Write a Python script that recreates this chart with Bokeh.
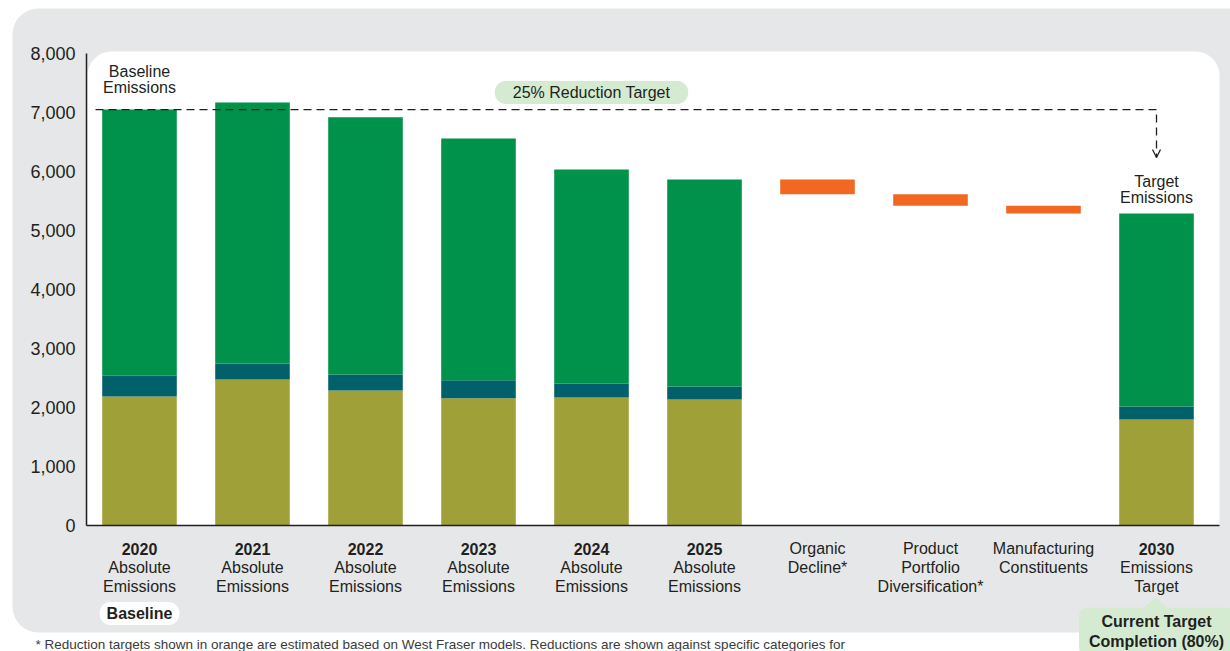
from bokeh.plotting import figure
from bokeh.models import (Range1d, FixedTicker, NumeralTickFormatter, Label,
                          BoxAnnotation, PolyAnnotation, Arrow, OpenHead)
from bokeh.embed import file_html
from bokeh.resources import INLINE

# ---------------- data ----------------
cat_heads = ["2020", "2021", "2022", "2023", "2024", "2025",
             "Organic", "Product", "Manufacturing", "2030"]
cat_rest = [["Absolute", "Emissions"], ["Absolute", "Emissions"], ["Absolute", "Emissions"],
            ["Absolute", "Emissions"], ["Absolute", "Emissions"], ["Absolute", "Emissions"],
            ["Decline*"], ["Portfolio", "Diversification*"], ["Constituents"],
            ["Emissions", "Target"]]
head_bold = [True, True, True, True, True, True, False, False, False, True]

bar_idx = [0, 1, 2, 3, 4, 5, 9]
series_olive = [2185, 2475, 2290, 2155, 2170, 2135, 1795]
series_teal = [355, 270, 270, 305, 235, 220, 220]
totals = [7050, 7170, 6920, 6560, 6035, 5865, 5288]

reduction_idx = [6, 7, 8]
reductions = [250, 195, 132]

y_ticks = [0, 1000, 2000, 3000, 4000, 5000, 6000, 7000, 8000]

footnote = ("*  Reduction targets shown in orange are estimated based on West Fraser models. "
            "Reductions are shown against specific categories for")

# ---------------- styling ----------------
FONT = "Liberation Sans"
TXT = "#231F20"
C_GREEN = "#00924A"
C_TEAL = "#00616A"
C_OLIVE = "#9FA138"
C_ORANGE = "#F26722"
C_PANEL = "#E6E7E8"
C_PILL = "#D4EBD2"

W, H = 1230, 651
# page-pixel helpers (layout only)
PX0, UNIT, Y0, PXPU = 139.0, 113.0, 525.0, 0.059


def dx(page_x):
    return (page_x - PX0) / UNIT


def dy(page_y):
    return (Y0 - page_y) / PXPU


p = figure(width=W, height=H,
           x_range=Range1d(dx(0), dx(W)), y_range=Range1d(dy(H), dy(0)),
           output_backend="svg", toolbar_location=None,
           min_border_left=0, min_border_right=0,
           min_border_top=0, min_border_bottom=0)
p.background_fill_color = "white"
p.border_fill_color = "white"
p.outline_line_color = None
p.xgrid.visible = False
p.ygrid.visible = False

# background panels
p.add_layout(BoxAnnotation(left=dx(12), right=dx(1300), top=dy(8), bottom=dy(632),
                           fill_color=C_PANEL, fill_alpha=1, line_color=None,
                           border_radius=26, level="underlay"))
p.add_layout(BoxAnnotation(left=dx(87), right=dx(1219), top=dy(51), bottom=0,
                           fill_color="white", fill_alpha=1, line_color=None,
                           border_radius=(24, 24, 0, 0), level="underlay"))

# axes (fixed inside the full-canvas frame)
p.yaxis.fixed_location = dx(86)
p.yaxis.bounds = (0, 8000)
p.yaxis.ticker = FixedTicker(ticks=y_ticks)
p.yaxis.formatter = NumeralTickFormatter(format="0,0")
p.yaxis.major_label_text_font = FONT
p.yaxis.major_label_text_font_size = "18px"
p.yaxis.major_label_text_color = TXT
p.yaxis.major_tick_line_color = None
p.yaxis.minor_tick_line_color = None
p.yaxis.major_tick_out = 0
p.yaxis.major_tick_in = 0
p.yaxis.major_label_standoff = 11
p.yaxis.axis_line_color = TXT
p.yaxis.axis_line_width = 1.5

p.xaxis.fixed_location = 0
p.xaxis.bounds = (dx(86), dx(1219))
p.xaxis.ticker = FixedTicker(ticks=[])
p.xaxis.major_tick_line_color = None
p.xaxis.minor_tick_line_color = None
p.xaxis.major_label_text_font_size = "0px"
p.xaxis.axis_line_color = TXT
p.xaxis.axis_line_width = 1.5

# stacked bars
teal_top = [o + t for o, t in zip(series_olive, series_teal)]
BW = 0.66
p.vbar(x=bar_idx, width=BW, bottom=0, top=series_olive, fill_color=C_OLIVE, line_color=None)
p.vbar(x=bar_idx, width=BW, bottom=series_olive, top=teal_top, fill_color=C_TEAL, line_color=None)
p.vbar(x=bar_idx, width=BW, bottom=teal_top, top=totals, fill_color=C_GREEN, line_color=None)

# waterfall reductions
red_tops, red_bottoms = [], []
level_now = totals[5]
for r in reductions:
    red_tops.append(level_now)
    level_now -= r
    red_bottoms.append(level_now)
p.vbar(x=reduction_idx, width=BW, bottom=red_bottoms, top=red_tops,
       fill_color=C_ORANGE, line_color=None)

# dashed baseline -> target connector
arrow_end = dy(157)
p.line(x=[dx(95), bar_idx[-1], bar_idx[-1]], y=[totals[0], totals[0], arrow_end],
       line_color=TXT, line_width=1.3, line_dash="8 5")
p.add_layout(Arrow(end=OpenHead(size=8, line_color=TXT, line_width=1.3),
                   x_start=bar_idx[-1], y_start=arrow_end + 200,
                   x_end=bar_idx[-1], y_end=arrow_end, line_alpha=0))


def lab(x, page_y, text, bold=False, size="16px", align="center", color=TXT, **kw):
    p.add_layout(Label(x=x, y=dy(page_y), text=text, text_align=align,
                       text_baseline="middle", text_font=FONT, text_font_size=size,
                       text_color=color, text_font_style="bold" if bold else "normal", **kw))


# category labels
for i, (h, rest, b) in enumerate(zip(cat_heads, cat_rest, head_bold)):
    lab(i, 548, h, bold=b)
    for j, line in enumerate(rest):
        lab(i, 567 + 19 * j, line)

# annotations
lab(0, 71, "Baseline")
lab(0, 87, "Emissions")
lab(9, 181, "Target")
lab(9, 197, "Emissions")
lab(4, 92, "25% Reduction Target", background_fill_color=C_PILL,
    padding=(18, 3), border_radius=11)
lab(0, 613, "Baseline", bold=True, background_fill_color="white",
    padding=(7, 3), border_radius=11)

lab(9, 631, "Current Target\nCompletion (80%)", bold=True,
    background_fill_color=C_PILL, padding=(10, 5), border_radius=8)
p.add_layout(PolyAnnotation(xs=[dx(1141), dx(1155), dx(1169)],
                            ys=[dy(609), dy(597), dy(609)],
                            fill_color=C_PILL, fill_alpha=1, line_color=None))

lab(dx(35), 644, footnote, size="13.5px", align="left", color="#3A3A3A")

open("out.html", "w").write(file_html(p, INLINE))
